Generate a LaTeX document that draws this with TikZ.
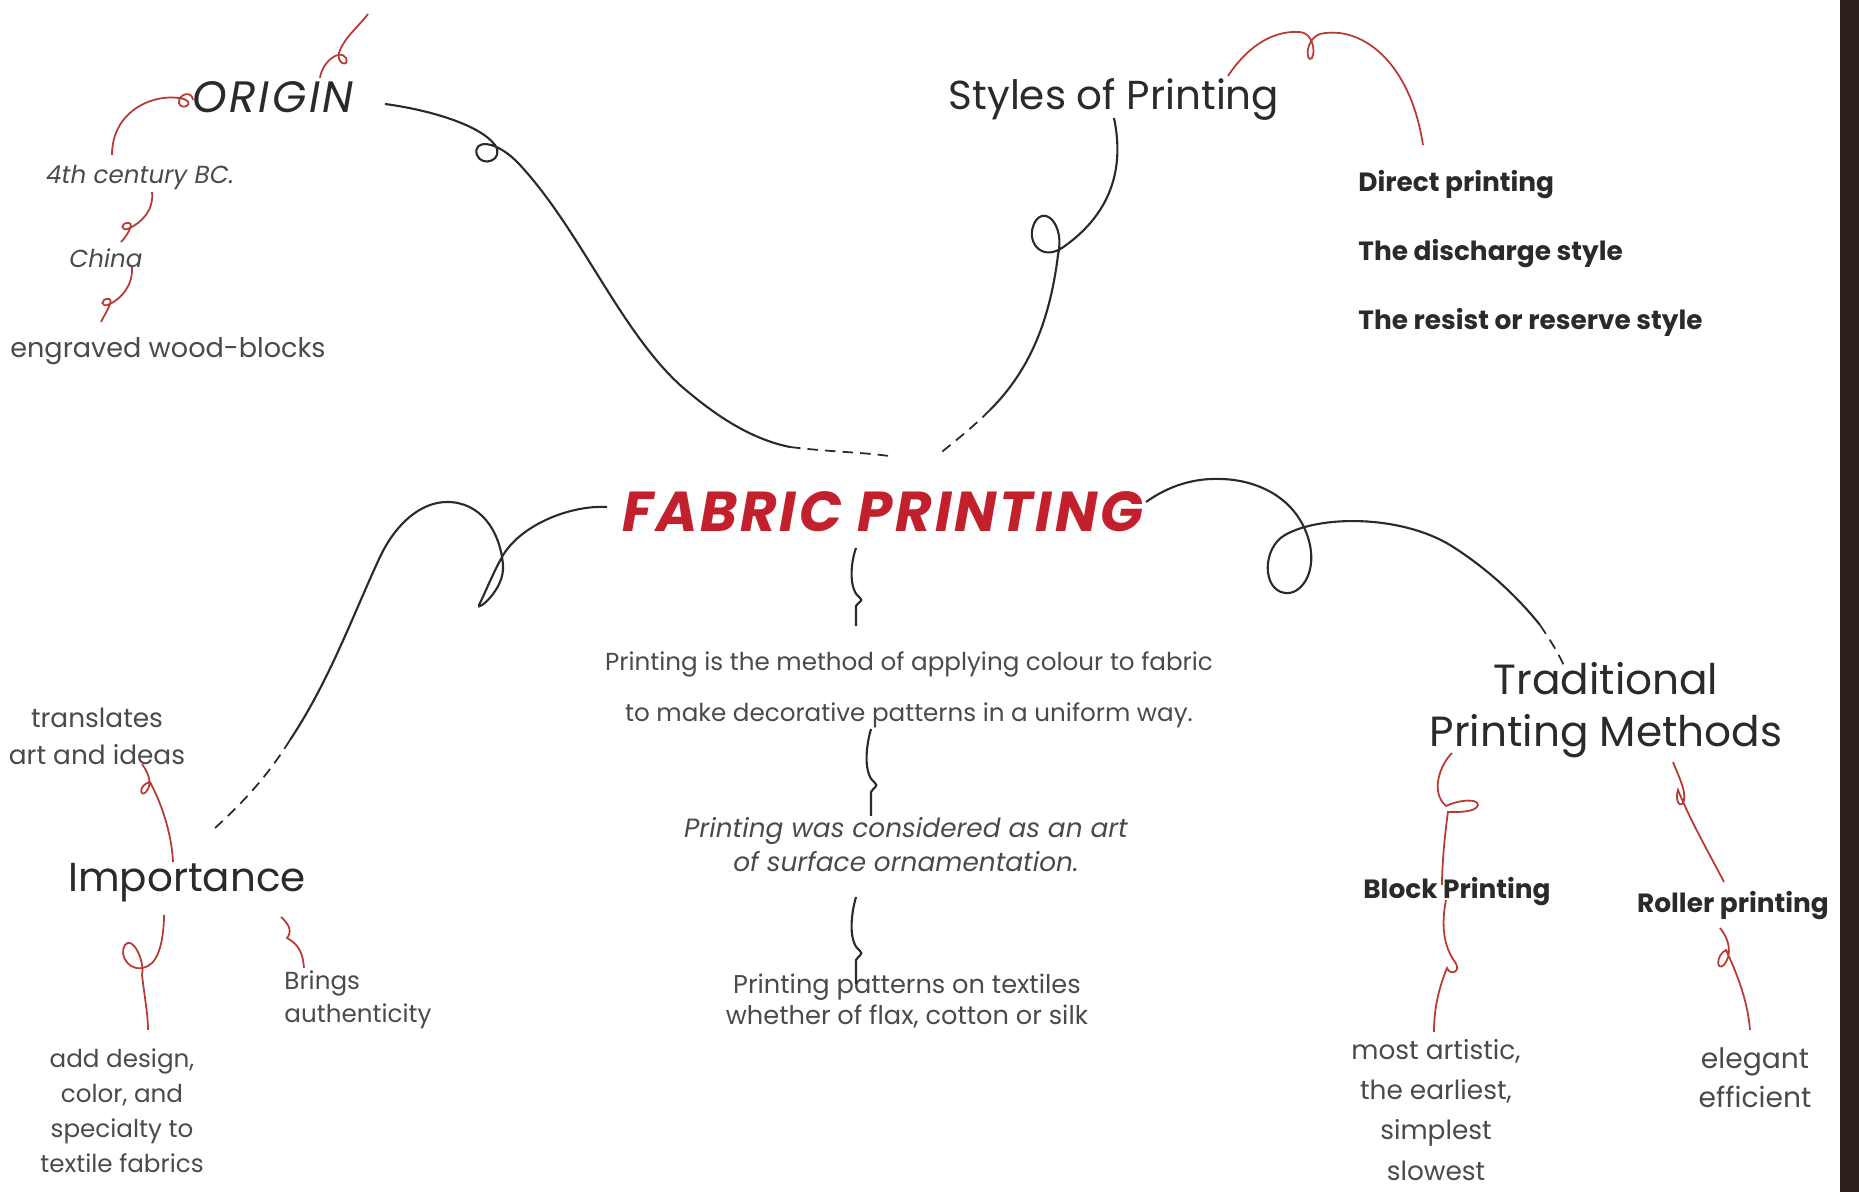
\documentclass[tikz,border=0pt]{standalone}
\usepackage{fontspec}
\setmainfont{Poppins}
\usetikzlibrary{calc}
\definecolor{fabred}{HTML}{C3202E}
\definecolor{linered}{HTML}{B83A32}
\definecolor{ink}{HTML}{2A2A2A}
\definecolor{soft}{HTML}{4A4A4A}
\definecolor{band}{HTML}{2B1F1A}
\begin{document}
\begin{tikzpicture}[x=0.01cm,y=-0.01cm,
  line/.style={draw=ink,line width=0.6pt},
  fade/.style={draw=ink,line width=0.5pt,dash pattern=on 3pt off 2pt},
  rline/.style={draw=linered,line width=0.5pt},
  hub/.style={text=ink,font=\fontsize{11.5}{14}\selectfont,align=center},
  sub/.style={text=ink,font=\bfseries\fontsize{7.5}{9}\selectfont},
  leaf/.style={text=soft,align=center}]
\useasboundingbox (0,0) rectangle (1859,1192);
\fill[band] (1840,0) rectangle (1859,1192);

% nodes
\node[text=fabred,font=\bfseries\itshape\fontsize{16}{19}\selectfont\addfontfeatures{LetterSpace=5}] (title) at (883,512) {FABRIC PRINTING};

\node[hub,font=\itshape\fontsize{12.5}{15}\selectfont\addfontfeatures{LetterSpace=6}] (origin) at (273,97) {ORIGIN};
\node[leaf,font=\itshape\fontsize{7}{9}\selectfont] (century) at (140,178) {4th century BC.};
\node[leaf,font=\itshape\fontsize{7}{9}\selectfont] (china) at (106,258) {China};
\node[leaf,font=\fontsize{7.7}{10}\selectfont] (blocks) at (168,351) {engraved wood-blocks};

\node[hub] (styles) at (1114,100) {Styles of Printing};
\node[sub,anchor=west] (direct) at (1346,185) {Direct printing};
\node[sub,anchor=west] (discharge) at (1346,254) {The discharge style};
\node[sub,anchor=west] (resist) at (1346,322) {The resist or reserve style};

\node[leaf,font=\fontsize{7}{14.5}\selectfont] (def) at (909,690) {Printing is the method of applying colour to fabric\\to make decorative patterns in a uniform way.};
\node[leaf,font=\itshape\fontsize{7.5}{9.7}\selectfont] (art) at (906,845) {Printing was considered as an art\\of surface ornamentation.};
\node[leaf,font=\fontsize{7.3}{8.8}\selectfont] (textiles) at (907,1001) {Printing patterns on textiles\\whether of flax, cotton or silk};

\node[hub,font=\fontsize{12}{14.8}\selectfont] (trad) at (1606,710) {Traditional\\Printing Methods};
\node[sub] (blockp) at (1457,892) {Block Printing};
\node[sub] (roller) at (1733,906) {Roller printing};
\node[leaf,font=\fontsize{7.5}{11.4}\selectfont] (artistic) at (1436,1110) {most artistic,\\the earliest,\\simplest\\slowest};
\node[leaf,font=\fontsize{8}{11}\selectfont] (elegant) at (1755,1078) {elegant\\efficient};

\node[hub] (importance) at (187,883) {Importance};
\node[leaf,font=\fontsize{7.5}{10.5}\selectfont] (translates) at (97,736) {translates\\art and ideas};
\node[leaf,anchor=west,align=left,font=\fontsize{7}{9.4}\selectfont] (brings) at (272,1000) {Brings\\authenticity};
\node[leaf,font=\fontsize{7}{10}\selectfont] (design) at (122,1111) {add design,\\color, and\\specialty to\\textile fabrics};

\coordinate (otip) at (368,14);

% black branches
\draw[line] ($(origin.center)+(112,7)$) .. controls (430,110) and (480,125) .. (495,145)
  .. controls (505,160) and (482,168) .. (477,155)
  .. controls (472,140) and (495,138) .. (520,165)
  .. controls (580,230) and (620,330) .. (680,385)
  .. controls (720,420) and (755,440) .. (790,447);
\draw[fade] (790,447) .. controls (830,452) and (860,452) .. ($(title.center)+(6,-56)$);

\draw[line] ($(styles.center)+(0,18)$) .. controls (1125,170) and (1110,215) .. (1062,248)
  .. controls (1040,262) and (1025,240) .. (1035,222)
  .. controls (1045,205) and (1065,225) .. (1058,255)
  .. controls (1050,320) and (1030,370) .. (990,410);
\draw[fade] (990,410) .. controls (970,430) and (950,445) .. ($(title.center)+(54,-56)$);

\draw[line] ($(title.center)+(-276,-5)$) .. controls (570,505) and (520,525) .. (502,557)
  .. controls (492,575) and (482,600) .. (479,605)
  .. controls (476,612) and (505,590) .. (503,565)
  .. controls (500,530) and (480,502) .. (447,502)
  .. controls (420,502) and (395,525) .. (380,557)
  .. controls (355,610) and (330,680) .. (290,740);
\draw[fade] (290,740) .. controls (265,780) and (240,805) .. ($(importance.center)+(28,-55)$);

\draw[line] ($(title.center)+(263,-10)$) .. controls (1170,485) and (1195,478) .. (1221,479)
  .. controls (1260,480) and (1300,500) .. (1310,545)
  .. controls (1316,575) and (1300,595) .. (1285,593)
  .. controls (1262,590) and (1262,548) .. (1285,535)
  .. controls (1320,515) and (1400,515) .. (1450,545)
  .. controls (1490,570) and (1520,600) .. (1540,625);
\draw[fade] (1540,625) .. controls (1550,640) and (1558,652) .. ($(trad.center)+(-41,-42)$);

% hooks down the middle
\draw[line] ($(title.center)+(-27,36)$) .. controls (850,565) and (849,590) .. (860,598)
  .. controls (864,601) and (858,602) .. (856,606) -- ($(def.center)+(-53,-64)$);
\draw[line] ($(def.center)+(-38,39)$) .. controls (865,750) and (864,775) .. (875,783)
  .. controls (879,786) and (873,788) .. (871,792) -- ($(art.center)+(-35,-29)$);
\draw[line] ($(art.center)+(-50,52)$) .. controls (850,918) and (849,943) .. (860,951)
  .. controls (864,954) and (858,956) .. (856,960) -- ($(textiles.center)+(-51,-17)$);

% red twigs
\draw[rline] ($(origin.center)+(47,-19)$) .. controls (322,62) and (340,48) .. (346,58)
  .. controls (350,68) and (334,64) .. (340,50)
  .. controls (346,36) and (360,25) .. (otip);
\draw[rline] ($(origin.center)+(-80,3)$) .. controls (192,90) and (178,94) .. (179,103)
  .. controls (181,111) and (196,104) .. (184,99)
  .. controls (155,92) and (112,110) .. ($(century.center)+(-28,-23)$);
\draw[rline] ($(century.center)+(12,14)$) .. controls (154,210) and (142,222) .. (130,228)
  .. controls (120,233) and (120,222) .. (129,223)
  .. controls (134,224) and (127,236) .. ($(china.center)+(15,-16)$);
\draw[rline] ($(china.center)+(26,9)$) .. controls (133,285) and (122,298) .. (110,304)
  .. controls (100,309) and (100,298) .. (109,299)
  .. controls (114,300) and (106,312) .. ($(blocks.center)+(-67,-29)$);

\draw[rline] ($(styles.center)+(114,-24)$) .. controls (1245,50) and (1270,30) .. (1300,32)
  .. controls (1312,33) and (1316,50) .. (1312,58)
  .. controls (1306,64) and (1304,40) .. (1320,34)
  .. controls (1360,25) and (1410,60) .. ($(direct.west)+(77,-40)$);

\draw[rline] ($(trad.center)+(-154,43)$) .. controls (1440,765) and (1430,792) .. (1446,806)
  .. controls (1458,800) and (1478,798) .. (1478,805)
  .. controls (1476,813) and (1455,812) .. (1448,812)
  .. controls (1444,840) and (1442,868) .. ($(blockp.center)+(-15,-7)$);
\draw[rline] ($(blockp.center)+(-11,8)$) .. controls (1440,930) and (1446,950) .. (1455,962)
  .. controls (1462,972) and (1450,976) .. (1447,968)
  .. controls (1438,990) and (1434,1010) .. ($(artistic.center)+(-2,-78)$);
\draw[rline] ($(trad.center)+(67,52)$) .. controls (1678,775) and (1686,790) .. (1684,800)
  .. controls (1682,810) and (1674,802) .. (1678,790)
  .. controls (1690,820) and (1710,855) .. ($(roller.center)+(-9,-24)$);
\draw[rline] ($(roller.center)+(-13,22)$) .. controls (1730,940) and (1732,955) .. (1724,965)
  .. controls (1716,972) and (1716,955) .. (1726,950)
  .. controls (1740,980) and (1748,1005) .. ($(elegant.center)+(-5,-48)$);

\draw[rline] ($(translates.center)+(45,28)$) .. controls (150,775) and (152,785) .. (146,792)
  .. controls (140,798) and (138,785) .. (150,782)
  .. controls (165,810) and (172,840) .. ($(importance.center)+(-14,-21)$);
\draw[rline] ($(importance.center)+(-23,32)$) .. controls (164,935) and (160,960) .. (148,966)
  .. controls (130,975) and (118,955) .. (125,945)
  .. controls (132,935) and (145,960) .. (142,975)
  .. controls (145,1000) and (148,1015) .. ($(design.center)+(26,-81)$);
\draw[rline] ($(importance.center)+(94,34)$) .. controls (290,925) and (292,932) .. (287,938)
  .. controls (300,945) and (303,955) .. ($(brings.west)+(32,-32)$);
\end{tikzpicture}
\end{document}
